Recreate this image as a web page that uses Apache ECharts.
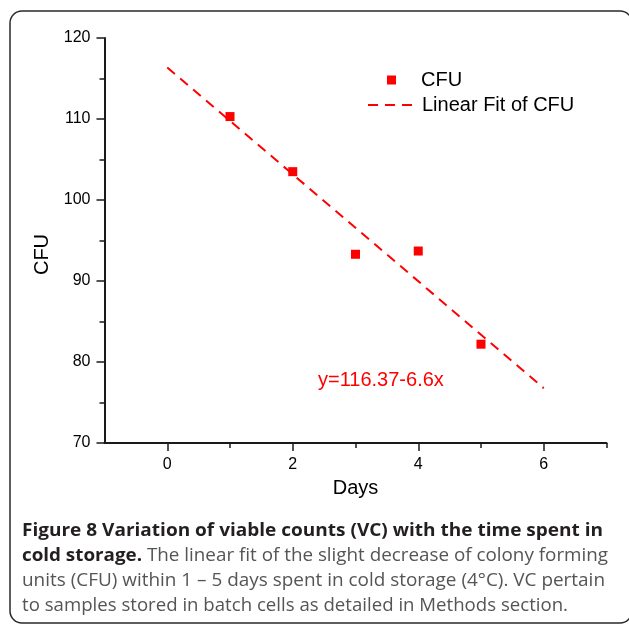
<!DOCTYPE html>
<html>
<head>
<meta charset="utf-8">
<script src="https://cdn.jsdelivr.net/npm/echarts@6/dist/echarts.min.js"></script>
<style>
html,body{margin:0;padding:0;background:#fff;}
#chart{width:629px;height:624px;}
</style>
</head>
<body>
<div id="chart"></div>
<script>
// ---- data ----
var days = [1, 2, 3, 4, 5];
var cfu = [110.3, 103.5, 93.3, 93.7, 82.2];
var fitDays = [0, 6];
var fitCfu = [116.37, 76.77];
var xMajorTicks = [0, 2, 4, 6];
var xMinorTicks = [1, 3, 5, 7];
var equationText = 'y=116.37-6.6x';
var captionLines = [
  {bold: 'Figure 8 Variation of viable counts (VC) with the time spent in', normal: ''},
  {bold: 'cold storage.', normal: ' The linear fit of the slight decrease of colony forming'},
  {bold: '', normal: 'units (CFU) within 1 \u2013 5 days spent in cold storage (4\u00b0C). VC pertain'},
  {bold: '', normal: 'to samples stored in batch cells as detailed in Methods section.'}
];
var captionRight = [603, 608, 605, 568];

var scatterData = days.map(function (d, i) { return [d, cfu[i]]; });
var fitData = fitDays.map(function (d, i) { return [d, fitCfu[i]]; });

var plotFont = 'Liberation Sans';
var capFont = 'Open Sans';
var capSize = 18;

// measure caption lines to fit widths
var cv = document.createElement('canvas').getContext('2d');
function measure(txt, bold) {
  if (!txt) return 0;
  cv.font = (bold ? 'bold ' : '') + capSize + 'px "' + capFont + '"';
  return cv.measureText(txt).width;
}
var capLeft = 22;
var capBaseY = [531, 556, 581, 606];
var captionGraphics = captionLines.map(function (ln, i) {
  var w = measure(ln.bold, true) + measure(ln.normal, false);
  var s = (captionRight[i] - capLeft) / w;
  var t = '';
  if (ln.bold) t += '{b|' + ln.bold + '}';
  if (ln.normal) t += '{n|' + ln.normal + '}';
  return {
    type: 'text', x: capLeft, y: capBaseY[i], scaleX: s,
    style: {
      text: t, x: 0, y: 0, verticalAlign: 'middle', align: 'left',
      rich: {
        b: {fontFamily: capFont, fontSize: capSize, fontWeight: 'bold', fill: '#231f20', lineHeight: 22},
        n: {fontFamily: capFont, fontSize: capSize, fontWeight: 'normal', fill: '#555555', lineHeight: 22}
      }
    }
  };
});

var chart = echarts.init(document.getElementById('chart'), null, {renderer: 'canvas'});
var axisColor = '#1a1a1a';
var option = {
  animation: false,
  backgroundColor: '#ffffff',
  grid: {left: 104.5, right: 22.5, top: 38, bottom: 181, containLabel: false},
  legend: [
    {
      data: [{name: 'CFU', icon: 'rect'}],
      left: 387, top: 70, padding: 0, itemWidth: 9, itemHeight: 9,
      textStyle: {fontFamily: plotFont, fontSize: 20, color: '#000', lineHeight: 20, padding: [0, 0, 0, 20]}
    },
    {
      data: [{name: 'Linear Fit of CFU'}],
      left: 367, top: 95, padding: 0, itemWidth: 46, itemHeight: 10,
      itemStyle: {opacity: 0, borderWidth: 0},
      textStyle: {fontFamily: plotFont, fontSize: 20, color: '#000', lineHeight: 20, padding: [0, 0, 0, 3]}
    }
  ],
  xAxis: [
    {
      type: 'value', min: -1, max: 7, interval: 1, position: 'bottom',
      name: 'Days', nameLocation: 'middle', nameGap: 35,
      nameTextStyle: {fontFamily: plotFont, fontSize: 20, color: '#000'},
      axisLine: {show: true, onZero: false, lineStyle: {color: axisColor, width: 2}},
      axisTick: {show: true, length: 8, customValues: xMajorTicks, lineStyle: {color: axisColor, width: 1.5}},
      axisLabel: {show: true, customValues: xMajorTicks, margin: 14, fontFamily: plotFont, fontSize: 16, color: '#000'},
      splitLine: {show: false}
    },
    {
      type: 'value', min: -1, max: 7, interval: 1, position: 'bottom',
      axisLine: {show: false, onZero: false},
      axisTick: {show: true, length: 5, customValues: xMinorTicks, lineStyle: {color: axisColor, width: 1.5}},
      axisLabel: {show: false},
      splitLine: {show: false}
    }
  ],
  yAxis: {
    type: 'value', min: 70, max: 120, interval: 10,
    name: 'CFU', nameLocation: 'middle', nameGap: 43, nameRotate: 90,
    nameTextStyle: {fontFamily: plotFont, fontSize: 20, color: '#000', padding: [0, 28, 0, 0]},
    axisLine: {show: true, onZero: false, lineStyle: {color: axisColor, width: 2}},
    axisTick: {show: true, length: 8, lineStyle: {color: axisColor, width: 1.5}},
    minorTick: {show: true, splitNumber: 2, length: 5, lineStyle: {color: axisColor, width: 1.5}},
    axisLabel: {margin: 14, fontFamily: plotFont, fontSize: 16, color: '#000'},
    splitLine: {show: false}
  },
  series: [
    {
      name: 'Linear Fit of CFU', type: 'line', xAxisIndex: 0, data: fitData,
      symbol: 'none', z: 2,
      lineStyle: {color: '#ff0000', width: 2, type: [10, 7]},
      itemStyle: {color: '#ff0000'}
    },
    {
      name: 'CFU', type: 'scatter', xAxisIndex: 0, data: scatterData,
      symbol: 'rect', symbolSize: 9, z: 3,
      itemStyle: {color: '#ff0000', opacity: 1}
    }
  ],
  graphic: [
    {
      type: 'rect', z: -1, silent: true,
      shape: {x: 10, y: 11, width: 622, height: 612, r: 12},
      style: {fill: 'none', stroke: '#2a2a2a', lineWidth: 1.5}
    },
    {
      type: 'text', x: 318, y: 380,
      style: {text: equationText, fontFamily: plotFont, fontSize: 20, fill: '#ff0000', verticalAlign: 'middle', align: 'left'}
    }
  ].concat(captionGraphics)
};
chart.setOption(option);
</script>
</body>
</html>
